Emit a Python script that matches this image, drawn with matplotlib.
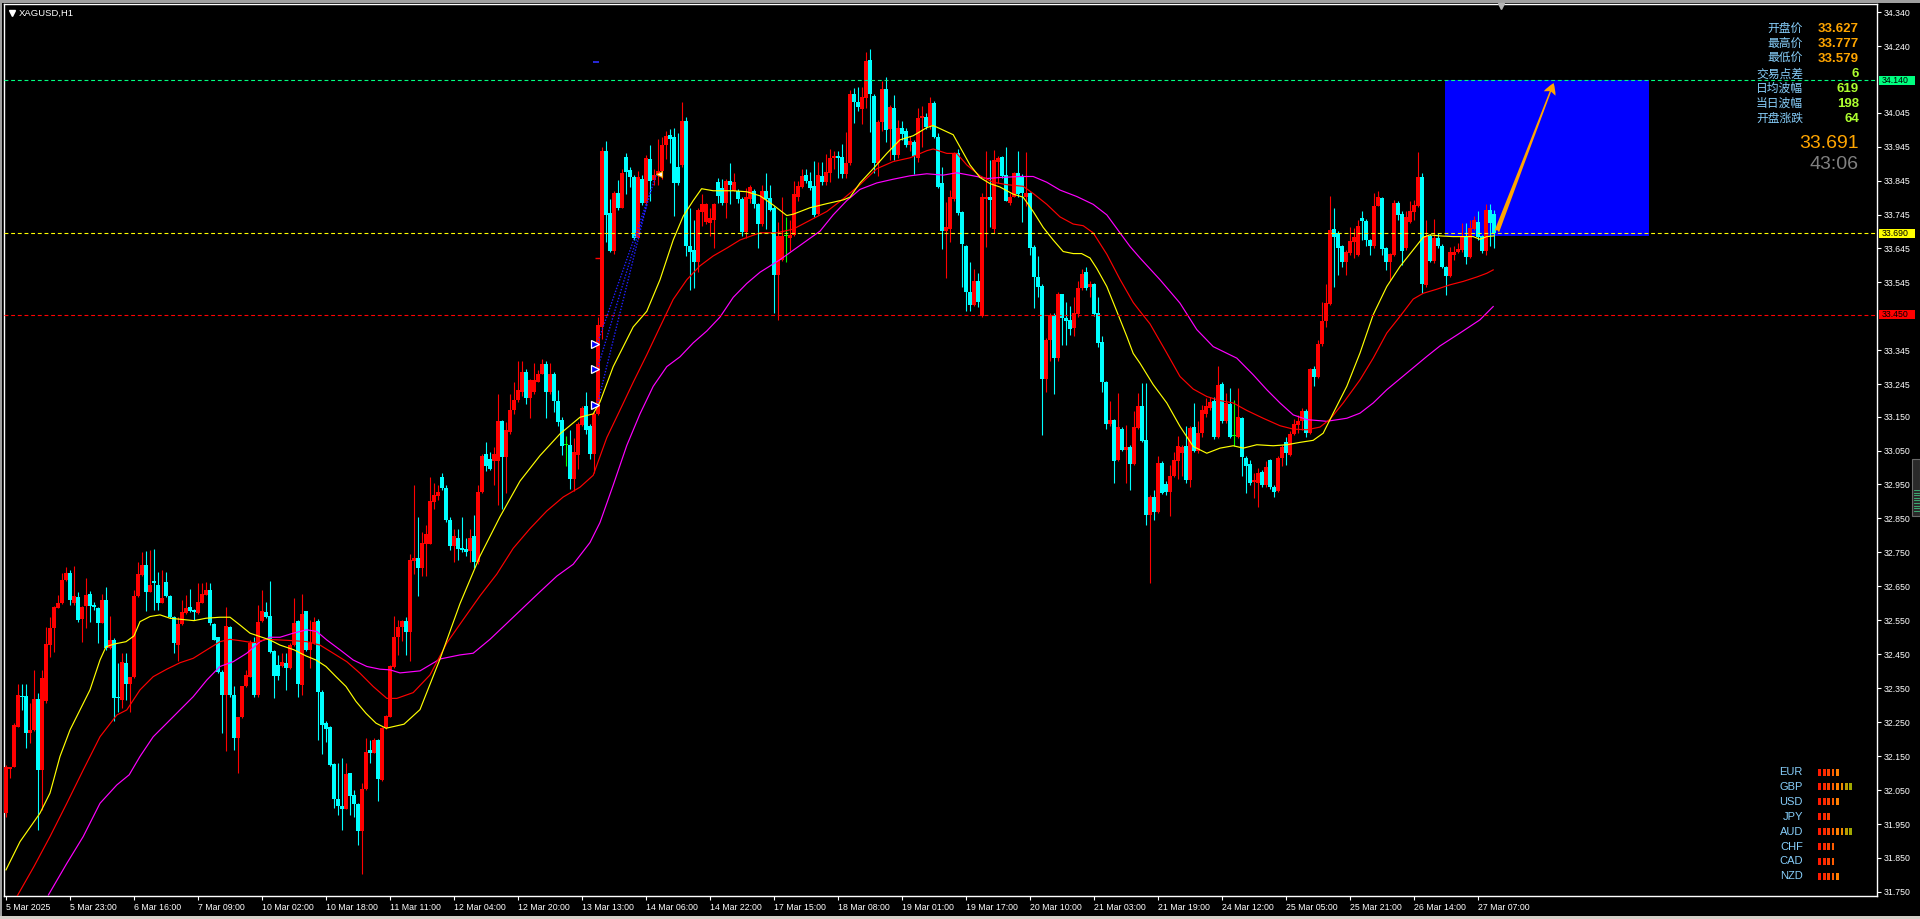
import numpy as np
import matplotlib
matplotlib.use("Agg")
import matplotlib.pyplot as plt
import matplotlib.transforms as mtransforms
from matplotlib.patches import Rectangle

plt.rcParams['font.family'] = ['Liberation Sans', 'DejaVu Sans']

# ---- XAGUSD H1 candles, bar 0 = 5 Mar 2025 07:00 ----
opens = [
    31.982, 32.113, 32.119, 32.237, 32.327, 32.327, 32.217, 32.227, 32.317, 32.109,
    32.311, 32.477, 32.526, 32.587, 32.600, 32.669, 32.688, 32.602, 32.620, 32.553,
    32.592, 32.628, 32.595, 32.585, 32.543, 32.610, 32.468, 32.492, 32.325, 32.315,
    32.423, 32.363, 32.382, 32.622, 32.683, 32.713, 32.634, 32.667, 32.654, 32.602,
    32.664, 32.622, 32.559, 32.477, 32.539, 32.571, 32.588, 32.580, 32.571, 32.602,
    32.625, 32.639, 32.539, 32.500, 32.399, 32.330, 32.531, 32.330, 32.203, 32.264,
    32.355, 32.384, 32.482, 32.330, 32.549, 32.573, 32.563, 32.461, 32.418, 32.414,
    32.425, 32.409, 32.477, 32.549, 32.360, 32.576, 32.463, 32.482, 32.549, 32.340,
    32.247, 32.237, 32.127, 32.023, 32.003, 31.995, 32.100, 32.036, 32.009, 31.928,
    32.052, 32.168, 32.160, 32.198, 32.080, 32.232, 32.266, 32.413, 32.500, 32.529,
    32.547, 32.515, 32.725, 32.733, 32.704, 32.774, 32.776, 32.899, 32.915, 32.971,
    32.939, 32.846, 32.768, 32.791, 32.764, 32.760, 32.753, 32.797, 32.721, 32.927,
    33.041, 33.024, 33.018, 33.018, 33.137, 33.030, 33.105, 33.169, 33.198, 33.222,
    33.280, 33.204, 33.222, 33.253, 33.276, 33.306, 33.222, 33.276, 33.195, 33.140,
    33.065, 33.067, 32.966, 33.036, 33.125, 33.181, 33.123, 33.039, 33.158, 33.414,
    33.932, 33.749, 33.637, 33.807, 33.765, 33.914, 33.877, 33.856, 33.676, 33.850,
    33.780, 33.908, 33.847, 33.862, 33.873, 33.949, 33.978, 33.972, 33.885, 33.891,
    34.019, 33.652, 33.641, 33.606, 33.751, 33.722, 33.719, 33.728, 33.842, 33.824,
    33.780, 33.844, 33.815, 33.815, 33.792, 33.693, 33.792, 33.815, 33.775, 33.716,
    33.815, 33.794, 33.765, 33.567, 33.612, 33.683, 33.675, 33.686, 33.796, 33.826,
    33.861, 33.844, 33.830, 33.746, 33.859, 33.840, 33.868, 33.910, 33.917, 33.914,
    33.865, 33.896, 34.099, 34.075, 34.057, 34.089, 34.201, 34.093, 33.896, 34.017,
    34.114, 33.996, 34.059, 33.920, 34.001, 33.991, 33.949, 33.959, 33.910, 34.030,
    34.033, 34.007, 34.072, 33.973, 33.838, 33.696, 33.702, 33.791, 33.925, 33.752,
    33.651, 33.518, 33.479, 33.549, 33.447, 33.791, 33.798, 33.702, 33.901, 33.914,
    33.861, 33.780, 33.798, 33.868, 33.859, 33.798, 33.807, 33.649, 33.560, 33.535,
    33.262, 33.376, 33.449, 33.321, 33.510, 33.439, 33.433, 33.412, 33.451, 33.528,
    33.575, 33.531, 33.539, 33.454, 33.370, 33.252, 33.129, 33.139, 33.023, 33.113,
    33.052, 33.060, 33.010, 33.115, 33.181, 33.081, 32.860, 32.913, 32.868, 33.013,
    32.952, 32.929, 32.974, 33.018, 33.042, 33.062, 32.962, 33.119, 33.050, 33.101,
    33.158, 33.175, 33.195, 33.089, 33.247, 33.136, 33.188, 33.093, 33.091, 33.145,
    33.028, 33.011, 32.956, 32.954, 32.988, 32.949, 33.021, 32.944, 32.930, 33.028,
    33.074, 33.037, 33.099, 33.126, 33.136, 33.165, 33.101, 33.290, 33.266, 33.364,
    33.430, 33.482, 33.702, 33.690, 33.653, 33.604, 33.633, 33.663, 33.626, 33.734,
    33.727, 33.669, 33.653, 33.771, 33.793, 33.646, 33.604, 33.626, 33.780, 33.747,
    33.646, 33.724, 33.751, 33.769, 33.855, 33.538, 33.682, 33.607, 33.675, 33.653,
    33.590, 33.563, 33.626, 33.636, 33.641, 33.680, 33.621, 33.702, 33.724, 33.682,
    33.639, 33.757, 33.747,
]
highs = [
    32.124, 32.119, 32.247, 32.363, 32.363, 32.363, 32.306, 32.404, 32.335, 32.404,
    32.531, 32.561, 32.592, 32.625, 32.690, 32.708, 32.698, 32.710, 32.634, 32.592,
    32.674, 32.637, 32.605, 32.588, 32.628, 32.647, 32.563, 32.497, 32.423, 32.453,
    32.453, 32.384, 32.639, 32.723, 32.752, 32.755, 32.757, 32.760, 32.693, 32.698,
    32.693, 32.625, 32.563, 32.561, 32.610, 32.625, 32.641, 32.584, 32.659, 32.661,
    32.664, 32.659, 32.543, 32.502, 32.404, 32.588, 32.533, 32.355, 32.266, 32.357,
    32.404, 32.492, 32.502, 32.595, 32.639, 32.605, 32.667, 32.463, 32.448, 32.453,
    32.455, 32.482, 32.615, 32.551, 32.628, 32.578, 32.551, 32.561, 32.553, 32.345,
    32.252, 32.239, 32.129, 32.129, 32.144, 32.129, 32.101, 32.050, 32.011, 32.070,
    32.203, 32.198, 32.203, 32.200, 32.237, 32.271, 32.418, 32.564, 32.552, 32.552,
    32.559, 32.745, 32.948, 32.855, 32.809, 32.832, 32.971, 32.954, 32.948, 32.983,
    32.948, 32.855, 32.820, 32.820, 32.855, 32.791, 32.820, 32.861, 32.948, 33.041,
    33.076, 33.047, 33.059, 33.216, 33.140, 33.134, 33.216, 33.251, 33.315, 33.315,
    33.291, 33.262, 33.309, 33.286, 33.320, 33.315, 33.309, 33.280, 33.227, 33.148,
    33.094, 33.111, 33.088, 33.134, 33.181, 33.222, 33.129, 33.164, 33.443, 33.943,
    33.961, 33.792, 33.815, 33.847, 33.879, 33.926, 33.885, 33.862, 33.873, 33.862,
    33.920, 33.949, 33.879, 33.966, 33.972, 33.990, 33.998, 34.001, 33.984, 34.077,
    34.033, 33.763, 33.728, 33.763, 33.804, 33.780, 33.763, 33.780, 33.853, 33.850,
    33.850, 33.897, 33.868, 33.821, 33.798, 33.824, 33.833, 33.821, 33.780, 33.833,
    33.868, 33.833, 33.770, 33.723, 33.796, 33.738, 33.728, 33.844, 33.844, 33.880,
    33.878, 33.870, 33.903, 33.901, 33.901, 33.922, 33.938, 33.933, 33.933, 33.952,
    33.988, 34.112, 34.117, 34.122, 34.122, 34.225, 34.233, 34.101, 34.022, 34.138,
    34.149, 34.068, 34.096, 34.022, 34.019, 34.001, 33.975, 33.965, 34.059, 34.064,
    34.043, 34.091, 34.078, 33.985, 33.886, 33.781, 33.817, 33.928, 33.938, 33.756,
    33.654, 33.605, 33.586, 33.573, 33.807, 33.933, 33.907, 33.935, 33.917, 33.917,
    33.944, 33.807, 33.870, 33.931, 33.865, 33.928, 33.812, 33.654, 33.623, 33.539,
    33.381, 33.454, 33.454, 33.518, 33.512, 33.486, 33.476, 33.502, 33.549, 33.586,
    33.591, 33.549, 33.544, 33.502, 33.386, 33.255, 33.197, 33.144, 33.218, 33.118,
    33.125, 33.065, 33.165, 33.218, 33.249, 33.249, 32.920, 32.935, 33.033, 33.018,
    32.960, 33.008, 33.047, 33.092, 33.067, 33.121, 33.121, 33.190, 33.136, 33.185,
    33.204, 33.209, 33.209, 33.300, 33.253, 33.219, 33.234, 33.199, 33.234, 33.150,
    33.033, 33.023, 32.983, 32.998, 32.993, 33.018, 33.025, 32.949, 33.033, 33.067,
    33.091, 33.106, 33.142, 33.155, 33.175, 33.172, 33.293, 33.298, 33.376, 33.486,
    33.541, 33.800, 33.764, 33.695, 33.656, 33.641, 33.708, 33.705, 33.729, 33.754,
    33.731, 33.672, 33.808, 33.813, 33.798, 33.649, 33.631, 33.788, 33.786, 33.754,
    33.754, 33.786, 33.788, 33.928, 33.867, 33.729, 33.688, 33.731, 33.690, 33.659,
    33.592, 33.649, 33.653, 33.661, 33.720, 33.720, 33.729, 33.741, 33.754, 33.685,
    33.777, 33.777, 33.759,
]
lows = [
    31.972, 32.085, 32.117, 32.235, 32.286, 32.173, 32.188, 32.225, 31.933, 31.992,
    32.306, 32.443, 32.458, 32.585, 32.598, 32.667, 32.595, 32.595, 32.546, 32.487,
    32.526, 32.546, 32.580, 32.484, 32.541, 32.463, 32.465, 32.252, 32.281, 32.291,
    32.315, 32.281, 32.379, 32.620, 32.681, 32.578, 32.632, 32.580, 32.580, 32.600,
    32.620, 32.557, 32.453, 32.431, 32.536, 32.569, 32.573, 32.551, 32.569, 32.600,
    32.623, 32.536, 32.492, 32.394, 32.217, 32.166, 32.325, 32.168, 32.099, 32.261,
    32.353, 32.382, 32.325, 32.325, 32.546, 32.556, 32.455, 32.320, 32.374, 32.412,
    32.345, 32.406, 32.474, 32.323, 32.330, 32.461, 32.409, 32.480, 32.198, 32.156,
    32.193, 32.121, 31.996, 31.977, 31.933, 31.993, 31.977, 31.972, 31.888, 31.803,
    32.050, 32.129, 32.158, 32.019, 32.078, 32.229, 32.264, 32.410, 32.448, 32.488,
    32.448, 32.430, 32.686, 32.622, 32.681, 32.681, 32.774, 32.879, 32.905, 32.934,
    32.838, 32.756, 32.721, 32.727, 32.750, 32.739, 32.721, 32.704, 32.715, 32.925,
    32.989, 32.992, 32.948, 32.890, 32.878, 32.925, 33.100, 33.158, 33.193, 33.210,
    33.187, 33.146, 33.216, 33.251, 33.274, 33.146, 33.216, 33.164, 33.123, 33.036,
    33.004, 32.937, 32.931, 32.995, 33.123, 33.100, 33.024, 32.983, 33.155, 33.379,
    33.664, 33.635, 33.629, 33.757, 33.763, 33.804, 33.827, 33.670, 33.672, 33.774,
    33.774, 33.786, 33.833, 33.833, 33.850, 33.908, 33.897, 33.740, 33.833, 33.885,
    33.623, 33.524, 33.530, 33.577, 33.711, 33.716, 33.681, 33.646, 33.780, 33.774,
    33.734, 33.775, 33.815, 33.780, 33.681, 33.676, 33.780, 33.763, 33.646, 33.710,
    33.702, 33.754, 33.454, 33.433, 33.607, 33.605, 33.639, 33.681, 33.786, 33.823,
    33.838, 33.817, 33.738, 33.744, 33.833, 33.833, 33.840, 33.880, 33.854, 33.854,
    33.854, 33.891, 34.015, 34.049, 34.012, 34.059, 33.988, 33.868, 33.859, 33.990,
    33.959, 33.907, 33.907, 33.912, 33.965, 33.944, 33.933, 33.865, 33.901, 33.944,
    33.996, 33.996, 33.970, 33.823, 33.644, 33.557, 33.665, 33.786, 33.744, 33.533,
    33.460, 33.462, 33.476, 33.472, 33.444, 33.649, 33.707, 33.691, 33.838, 33.854,
    33.784, 33.773, 33.796, 33.796, 33.723, 33.770, 33.626, 33.470, 33.502, 33.097,
    33.223, 33.313, 33.216, 33.313, 33.360, 33.360, 33.391, 33.386, 33.444, 33.523,
    33.523, 33.502, 33.447, 33.355, 33.223, 33.113, 33.123, 32.955, 33.018, 33.050,
    32.955, 32.934, 33.007, 33.113, 33.076, 32.831, 32.661, 32.846, 32.866, 32.923,
    32.920, 32.856, 32.972, 32.965, 32.974, 32.954, 32.944, 33.047, 33.042, 33.091,
    33.150, 33.170, 33.085, 33.087, 33.131, 33.131, 33.088, 33.064, 33.088, 32.974,
    32.925, 32.949, 32.910, 32.885, 32.944, 32.944, 32.936, 32.913, 32.927, 33.003,
    33.008, 33.035, 33.096, 33.101, 33.111, 33.091, 33.099, 33.241, 33.263, 33.358,
    33.413, 33.479, 33.533, 33.567, 33.590, 33.567, 33.626, 33.617, 33.623, 33.671,
    33.653, 33.626, 33.646, 33.769, 33.626, 33.582, 33.551, 33.623, 33.729, 33.597,
    33.641, 33.720, 33.729, 33.767, 33.515, 33.533, 33.604, 33.602, 33.646, 33.587,
    33.509, 33.561, 33.612, 33.631, 33.636, 33.600, 33.617, 33.698, 33.671, 33.633,
    33.626, 33.651, 33.646,
]
closes = [
    32.119, 32.117, 32.242, 32.330, 32.323, 32.217, 32.227, 32.317, 32.109, 32.379,
    32.480, 32.526, 32.588, 32.602, 32.669, 32.688, 32.610, 32.622, 32.551, 32.590,
    32.625, 32.592, 32.588, 32.543, 32.610, 32.468, 32.492, 32.320, 32.320, 32.428,
    32.363, 32.382, 32.622, 32.686, 32.713, 32.634, 32.654, 32.659, 32.602, 32.615,
    32.622, 32.559, 32.482, 32.539, 32.573, 32.585, 32.576, 32.573, 32.605, 32.628,
    32.639, 32.541, 32.492, 32.399, 32.330, 32.533, 32.330, 32.203, 32.264, 32.355,
    32.389, 32.482, 32.330, 32.546, 32.576, 32.559, 32.458, 32.386, 32.386, 32.428,
    32.409, 32.477, 32.541, 32.363, 32.569, 32.463, 32.482, 32.546, 32.340, 32.242,
    32.229, 32.124, 32.023, 32.003, 31.995, 32.098, 32.033, 32.009, 31.928, 32.052,
    32.163, 32.160, 32.196, 32.082, 32.232, 32.268, 32.414, 32.500, 32.529, 32.547,
    32.515, 32.727, 32.733, 32.704, 32.779, 32.803, 32.902, 32.919, 32.927, 32.939,
    32.846, 32.768, 32.797, 32.760, 32.756, 32.750, 32.791, 32.721, 32.927, 33.035,
    33.004, 32.995, 33.041, 33.137, 33.030, 33.111, 33.169, 33.198, 33.227, 33.280,
    33.204, 33.257, 33.257, 33.276, 33.306, 33.222, 33.276, 33.195, 33.134, 33.062,
    33.065, 32.966, 33.047, 33.129, 33.175, 33.111, 33.039, 33.158, 33.419, 33.932,
    33.745, 33.637, 33.807, 33.765, 33.868, 33.870, 33.856, 33.676, 33.856, 33.780,
    33.912, 33.844, 33.862, 33.873, 33.949, 33.975, 33.966, 33.838, 33.838, 34.021,
    33.652, 33.635, 33.606, 33.757, 33.775, 33.775, 33.734, 33.777, 33.800, 33.780,
    33.844, 33.833, 33.842, 33.792, 33.693, 33.798, 33.827, 33.775, 33.716, 33.815,
    33.791, 33.759, 33.567, 33.683, 33.683, 33.683, 33.686, 33.805, 33.828, 33.859,
    33.844, 33.823, 33.744, 33.861, 33.840, 33.870, 33.912, 33.917, 33.912, 33.865,
    33.896, 34.099, 34.075, 34.061, 34.091, 34.198, 34.101, 33.896, 34.017, 34.114,
    33.994, 34.061, 33.920, 34.001, 33.983, 33.949, 33.962, 33.917, 34.030, 34.036,
    34.004, 34.072, 33.973, 33.826, 33.696, 33.707, 33.796, 33.925, 33.749, 33.657,
    33.518, 33.479, 33.549, 33.486, 33.796, 33.798, 33.788, 33.907, 33.912, 33.859,
    33.786, 33.798, 33.868, 33.805, 33.807, 33.809, 33.647, 33.560, 33.533, 33.262,
    33.376, 33.449, 33.321, 33.510, 33.439, 33.430, 33.409, 33.454, 33.528, 33.570,
    33.528, 33.539, 33.451, 33.367, 33.252, 33.129, 33.139, 33.020, 33.118, 33.052,
    33.060, 33.010, 33.118, 33.181, 33.079, 32.860, 32.913, 32.870, 33.014, 32.926,
    32.927, 32.976, 33.021, 33.062, 33.060, 32.964, 33.116, 33.050, 33.103, 33.168,
    33.180, 33.194, 33.089, 33.244, 33.136, 33.190, 33.091, 33.093, 33.150, 33.031,
    33.005, 32.954, 32.962, 32.983, 32.949, 33.001, 32.942, 32.927, 33.028, 33.060,
    33.042, 33.099, 33.129, 33.136, 33.165, 33.101, 33.290, 33.266, 33.364, 33.430,
    33.484, 33.698, 33.680, 33.646, 33.604, 33.636, 33.666, 33.680, 33.712, 33.727,
    33.669, 33.653, 33.771, 33.796, 33.643, 33.604, 33.629, 33.780, 33.744, 33.639,
    33.737, 33.754, 33.774, 33.855, 33.541, 33.682, 33.607, 33.675, 33.651, 33.590,
    33.563, 33.636, 33.636, 33.643, 33.682, 33.621, 33.705, 33.729, 33.680, 33.639,
    33.757, 33.720, 33.691,
]

# moving averages (bar index, price)
ma_yellow_bar = [0, 3.5, 7, 8.5, 11, 13.5, 16, 18.5, 21, 23.5, 25, 27, 30, 32, 33.5, 36, 38.5, 41, 43.5, 47,
                 50, 53.5, 56, 58.5, 61, 63.5, 66, 68.5, 72, 75, 77.5, 80, 82.5, 85, 87.5, 90, 92.5, 95, 99.5,
                 103.5, 108.5, 113.5, 118.5, 123.5, 128.5, 133.5, 138.5, 143.5, 146.8, 148.5, 151.8, 156.8,
                 160.2, 163.5, 166.8, 169.3, 171.8, 173.9, 176.8, 181.8, 185.2, 188.5, 191.8, 195.2, 196.8,
                 201, 205.2, 209.3, 211, 213.5, 216.8, 220.2, 223.5, 226.8, 230.2, 231.8, 233.5, 236.8, 238.5,
                 241, 243.5, 246, 248.5, 251.8, 254.3, 256.8, 259.3, 261.8, 264.3, 266.8, 268.9, 271, 272.7,
                 275.2, 277.7, 280.2, 281.8, 283.5, 286.8, 290.2, 293.5, 296.8, 300.2, 303.5, 306.8, 309.3,
                 312.7, 316.8, 320.2, 323.5, 326.8, 329.3, 331.8, 335.2, 338.5, 341.8, 345.2, 348.5, 351.8,
                 354.3, 356, 358.5, 361.8, 365.2, 366.8, 368.5, 370.2, 372]
ma_yellow_val = [31.815, 31.898, 31.957, 31.982, 32.041, 32.149, 32.227, 32.286, 32.345, 32.433, 32.472, 32.480,
                 32.487, 32.504, 32.546, 32.561, 32.566, 32.556, 32.553, 32.549, 32.556, 32.559, 32.559, 32.536,
                 32.512, 32.502, 32.492, 32.477, 32.463, 32.445, 32.433, 32.414, 32.384, 32.355, 32.311, 32.276,
                 32.247, 32.232, 32.244, 32.287, 32.436, 32.599, 32.739, 32.855, 32.960, 33.035, 33.099, 33.148,
                 33.158, 33.193, 33.297, 33.414, 33.460, 33.553, 33.670, 33.740, 33.786, 33.821, 33.815, 33.815,
                 33.812, 33.800, 33.773, 33.742, 33.746, 33.765, 33.777, 33.788, 33.796, 33.838, 33.880, 33.925,
                 33.965, 33.977, 34.001, 34.007, 33.998, 33.980, 33.944, 33.891, 33.854, 33.836, 33.826, 33.805,
                 33.796, 33.754, 33.707, 33.670, 33.636, 33.630, 33.630, 33.617, 33.586, 33.533, 33.460, 33.386,
                 33.336, 33.307, 33.244, 33.190, 33.121, 33.062, 33.042, 33.057, 33.064, 33.057, 33.067, 33.064,
                 33.067, 33.074, 33.080, 33.101, 33.160, 33.239, 33.337, 33.450, 33.533, 33.592, 33.641, 33.678,
                 33.685, 33.682, 33.680, 33.680, 33.680, 33.672, 33.680, 33.682]

ma_red_bar = [2.7, 7, 11, 15.2, 19.3, 23.5, 27.7, 30.2, 33.5, 36.8, 40.2, 43.5, 46.8, 50.2, 53.5, 56, 58.5, 61.8,
              65.2, 68.5, 71.8, 75.2, 78.5, 81.8, 85.2, 88.5, 91.8, 95.2, 97.7, 101.8, 106, 110.2, 114.3, 118.5,
              122.7, 126.8, 131, 135.2, 139.3, 143.5, 146.8, 150.2, 153.5, 156.8, 160.2, 163.5, 166.8, 170.2,
              173.5, 176.8, 180.2, 183.5, 186.8, 188.5, 192.7, 196.8, 201, 205.2, 209.3, 213.5, 217.7, 221.8,
              226, 230.2, 231.8, 235.2, 237.7, 240.2, 243.5, 246.8, 250.2, 254.3, 256.8, 260.2, 263.5, 266.8,
              269.3, 271.8, 275.2, 278.5, 281.8, 283.5, 286, 290.2, 293.5, 296.8, 300.2, 303.5, 306.8, 310.2,
              314.3, 318.5, 321.8, 325.2, 328.5, 331, 334.3, 338.5, 341.8, 345.2, 348.5, 351.8, 354.3, 357.7,
              361, 364.3, 367.7, 370.2, 371.8]
ma_red_val = [31.736, 31.825, 31.913, 32.011, 32.109, 32.207, 32.271, 32.286, 32.345, 32.384, 32.406, 32.425,
              32.438, 32.463, 32.487, 32.494, 32.490, 32.484, 32.494, 32.492, 32.490, 32.487, 32.477, 32.453,
              32.428, 32.394, 32.355, 32.320, 32.320, 32.337, 32.389, 32.483, 32.552, 32.622, 32.686, 32.762,
              32.820, 32.872, 32.913, 32.942, 32.977, 33.088, 33.169, 33.251, 33.332, 33.414, 33.495, 33.553,
              33.594, 33.623, 33.646, 33.670, 33.684, 33.691, 33.691, 33.702, 33.728, 33.754, 33.791, 33.833,
              33.880, 33.901, 33.912, 33.933, 33.938, 33.925, 33.925, 33.891, 33.859, 33.840, 33.833, 33.828,
              33.807, 33.775, 33.738, 33.717, 33.712, 33.691, 33.628, 33.554, 33.486, 33.460, 33.423, 33.337,
              33.268, 33.231, 33.209, 33.197, 33.190, 33.168, 33.145, 33.123, 33.113, 33.111, 33.119, 33.142,
              33.190, 33.258, 33.322, 33.396, 33.445, 33.496, 33.513, 33.525, 33.538, 33.548, 33.561, 33.572,
              33.582]

ma_magenta_bar = [10.6, 15.2, 19.3, 23.5, 27.7, 30.8, 33.5, 36.8, 40.2, 43.5, 46.8, 50.2, 53.5, 56.8, 60.2, 63.5,
                  66, 68.5, 71.8, 75.2, 77.7, 80.2, 83.5, 86.8, 90.2, 93.5, 96, 98.5, 103.5, 108.5, 113.5, 116.8,
                  121, 125.2, 129.3, 133.5, 137.7, 141.8, 146, 148.5, 151.8, 155.2, 158.5, 161.8, 165.2, 168.5,
                  171.8, 175.2, 178.5, 181.8, 185.2, 188.5, 193.5, 198.5, 203.5, 206.8, 210.2, 213.5, 217.7,
                  221.8, 226, 230.2, 234.3, 237.7, 241.8, 245.2, 248.5, 253.5, 256.8, 260.2, 263.5, 267.7, 271.8,
                  275.2, 278.5, 281, 283.5, 288.5, 293.5, 297.7, 301.8, 307.7, 311.8, 315.2, 318.5, 321.8, 325.2,
                  330.2, 335.2, 338.5, 341.8, 345.2, 350.2, 355.2, 358.5, 363.5, 368.5, 371.8]
ma_magenta_val = [31.741, 31.834, 31.913, 32.011, 32.065, 32.095, 32.149, 32.207, 32.247, 32.286, 32.325, 32.374,
                  32.414, 32.428, 32.453, 32.487, 32.500, 32.500, 32.512, 32.522, 32.517, 32.492, 32.463, 32.433,
                  32.414, 32.406, 32.404, 32.395, 32.401, 32.436, 32.448, 32.453, 32.494, 32.541, 32.587, 32.634,
                  32.680, 32.715, 32.779, 32.838, 32.948, 33.065, 33.158, 33.239, 33.297, 33.326, 33.367, 33.402,
                  33.443, 33.501, 33.542, 33.575, 33.612, 33.654, 33.696, 33.744, 33.786, 33.819, 33.838, 33.849,
                  33.859, 33.865, 33.861, 33.868, 33.859, 33.851, 33.854, 33.857, 33.857, 33.840, 33.817, 33.798,
                  33.775, 33.744, 33.691, 33.651, 33.617, 33.553, 33.484, 33.406, 33.356, 33.322, 33.273, 33.229,
                  33.190, 33.155, 33.141, 33.136, 33.145, 33.160, 33.190, 33.229, 33.278, 33.327, 33.358, 33.396,
                  33.435, 33.474]

# axis labels
xtick_bars = list(range(0, 369, 16))
xtick_labels = ['5 Mar 2025', '5 Mar 23:00', '6 Mar 16:00', '7 Mar 09:00', '10 Mar 02:00', '10 Mar 18:00',
                '11 Mar 11:00', '12 Mar 04:00', '12 Mar 20:00', '13 Mar 13:00', '14 Mar 06:00', '14 Mar 22:00',
                '17 Mar 15:00', '18 Mar 08:00', '19 Mar 01:00', '19 Mar 17:00', '20 Mar 10:00', '21 Mar 03:00',
                '21 Mar 19:00', '24 Mar 12:00', '25 Mar 05:00', '25 Mar 21:00', '26 Mar 14:00', '27 Mar 07:00']
ytick_vals = [34.340, 34.240, 34.045, 33.945, 33.845, 33.745, 33.645, 33.545, 33.345, 33.245, 33.150, 33.050,
              32.950, 32.850, 32.750, 32.650, 32.550, 32.450, 32.350, 32.250, 32.150, 32.050, 31.950, 31.850,
              31.750]

# horizontal levels and objects
level_vals = [34.140, 33.690, 33.450]
level_colors = ['#00ff80', '#ffff00', '#ff0000']
zone_bars = [359.75, 410.75]
zone_prices = [33.681, 34.140]
arrow_bars = [372.7, 386.9]
arrow_prices = [33.695, 34.132]
trade_open_bars = [147.2, 147.2, 147.2]
trade_open_prices = [33.364, 33.289, 33.184]
trade_close_bars = [162.7, 161.4, 160.2]
trade_close_prices = [33.865, 33.820, 33.775]

# info panel
info_labels = ['开盘价', '最高价', '最低价', '交易点差', '日均波幅', '当日波幅', '开盘涨跌']
info_values = ['33.627', '33.777', '33.579', '6', '619', '198', '64']
last_price = '33.691'
bar_timer = '43:06'

# currency strength panel
currencies = ['EUR', 'GBP', 'USD', 'JPY', 'AUD', 'CHF', 'CAD', 'NZD']
strength = [5, 8, 5, 3, 8, 4, 4, 5]
seg_colors = ['#ff1a00', '#ff2800', '#ff4000', '#ff5c00', '#ff8000', '#f08c00', '#b89c00', '#a0a800']

# ---------------------------------------------------------------
W, H = 1920, 919
fig = plt.figure(figsize=(W / 100, H / 100), dpi=100, facecolor='black')

left_px, right_px, top_px, bottom_px = 4, 1877, 4, 896
ax = fig.add_axes([left_px / W, 1 - bottom_px / H, (right_px - left_px) / W, (bottom_px - top_px) / H])
ax.set_facecolor('black')
ax.set_xlim(-0.5, 467.75)
ax.set_ylim(31.738, 34.365)

n = min(len(opens), len(highs), len(lows), len(closes))
x = np.arange(n)
o = np.array(opens[:n]); h = np.array(highs[:n]); l = np.array(lows[:n]); c = np.array(closes[:n])
col = np.where(c > o, '#ff0000', np.where(c < o, '#00ffff', '#00ff00'))

# blue target zone (background)
ax.add_patch(Rectangle((zone_bars[0], zone_prices[0]), zone_bars[1] - zone_bars[0],
                       zone_prices[1] - zone_prices[0], facecolor='#0000ff', edgecolor='none', zorder=1))

# candles
ax.vlines(x, l, h, colors=col, linewidth=0.8, zorder=3)
ax.bar(x, np.maximum(np.abs(c - o), 0.003), width=0.78, bottom=np.minimum(o, c),
       color=col, linewidth=0, zorder=3, antialiased=False)

# moving averages
ax.plot(ma_magenta_bar, ma_magenta_val, color='#ff00ff', lw=0.85, zorder=4)
ax.plot(ma_red_bar, ma_red_val, color='#ff0000', lw=0.85, zorder=4)
ax.plot(ma_yellow_bar, ma_yellow_val, color='#ffff00', lw=0.85, zorder=4)

# horizontal levels
for v, lc in zip(level_vals, level_colors):
    ax.axhline(v, color=lc, lw=0.8, ls=(0, (3.5, 2.5)), zorder=5)

# trade history lines
for xb0, p0, xb1, p1 in zip(trade_open_bars, trade_open_prices, trade_close_bars, trade_close_prices):
    ax.plot([xb0 + 0.6, xb1], [p0, p1], color='#2020ff', lw=1.0, ls=(0, (1, 1.2)), zorder=5)
ax.plot(trade_open_bars, trade_open_prices, ls='none', marker='>', ms=6, mfc='#0000ff', mec='white',
        mew=0.9, zorder=6)
ax.plot([trade_close_bars[0] + 0.6], [trade_close_prices[0]], ls='none', marker='<', ms=5,
        mfc='white', mec='#ffa500', mew=0.8, zorder=6)
ax.plot([147.5], [34.194], ls='none', marker='_', ms=5, mec='#3030ff', mew=1.2, zorder=6)
ax.plot([148.0], [33.617], ls='none', marker='_', ms=4, mec='#ff0000', mew=1.0, zorder=6)

# orange target arrow
ax.annotate('', xy=(arrow_bars[1], arrow_prices[1]), xytext=(arrow_bars[0], arrow_prices[0]),
            arrowprops=dict(arrowstyle='fancy,head_length=0.8,head_width=0.9,tail_width=0.35',
                            fc='#ffa500', ec='none', shrinkA=0, shrinkB=0, mutation_scale=10),
            zorder=6, annotation_clip=False)

# axes styling
for sp in ax.spines.values():
    sp.set_color('white')
    sp.set_linewidth(1.0)
ax.yaxis.tick_right()
ax.set_yticks(ytick_vals)
ax.set_yticklabels([f'{v:.3f}' for v in ytick_vals])
ax.tick_params(axis='y', colors='white', length=3, width=0.8, labelsize=6.3, pad=2, direction='out')
ax.set_xticks(xtick_bars)
ax.set_xticklabels(xtick_labels)
ax.tick_params(axis='x', colors='white', length=3, width=0.8, labelsize=6.3, pad=2, direction='out')
for lbl in ax.get_xticklabels():
    lbl.set_horizontalalignment('left')

# price boxes on the right scale
trans = mtransforms.blended_transform_factory(ax.transAxes, ax.transData)
axw = right_px - left_px
for v, lc in zip(level_vals, level_colors):
    ax.add_patch(Rectangle(((1879 - left_px) / axw, v - 0.0135), 36 / axw, 0.027, transform=trans,
                           facecolor=lc, edgecolor='none', clip_on=False, zorder=10))
    ax.text((1882 - left_px) / axw, v, f'{v:.3f}', transform=trans, ha='left', va='center',
            fontsize=6.3, color='black', clip_on=False, zorder=11)

# overlay in pixel coordinates for panels and window frame
ov = fig.add_axes([0, 0, 1, 1], zorder=20)
ov.set_xlim(0, W)
ov.set_ylim(H, 0)
ov.axis('off')
ov.patch.set_alpha(0)

ov.add_patch(Rectangle((0, 0), W, 2.5, facecolor='#a0a0a0', edgecolor='none'))
ov.add_patch(Rectangle((0, 0), 1.5, H, facecolor='#a0a0a0', edgecolor='none'))
ov.add_patch(Rectangle((0, 915.5), W, 4, facecolor='#d4d0c8', edgecolor='none'))

ov.plot([11.5], [13], marker='v', ms=4.5, color='white', ls='none')
ov.text(19, 13, 'XAGUSD,H1', color='white', fontsize=6.8, va='center', ha='left')
ov.plot([1501], [6], marker='v', ms=5, color='#b4b4b4', ls='none')

# info panel
cjk = ['Noto Sans CJK SC', 'DejaVu Sans']
for k, (lab, val) in enumerate(zip(info_labels, info_values)):
    yy = 28.7 + 15 * k
    ov.text(1803, yy, lab, family=cjk, fontsize=8.5, color='#87cefa', ha='right', va='center')
    ov.text(1859, yy, val, fontsize=9.5, fontweight='bold', color='#ffa500' if k < 3 else '#adff2f',
            ha='right', va='center')
ov.text(1859, 144, last_price, fontsize=14, color='#ffa500', ha='right', va='center')
ov.text(1859, 164.5, bar_timer, fontsize=14, color='#808080', ha='right', va='center')

# currency strength panel
for k, (cur, s) in enumerate(zip(currencies, strength)):
    yy = 772 + 14.9 * k
    ov.text(1803, yy, cur, fontsize=8, color='#87cefa', ha='right', va='center')
    for j in range(s):
        ov.add_patch(Rectangle((1818.3 + 4.45 * j, yy - 3.5), 2.8, 7, facecolor=seg_colors[j],
                               edgecolor='none'))

# scroll widget on right edge
ov.add_patch(Rectangle((1912, 459), 8, 57, facecolor='#2a2a2a', edgecolor='#6a6a6a', lw=0.8))
for k in range(9):
    ov.plot([1914, 1919], [490 + 2.6 * k, 490 + 2.6 * k], color='#40c080', lw=0.6)

fig.savefig('out.png', dpi=100, facecolor='black')
